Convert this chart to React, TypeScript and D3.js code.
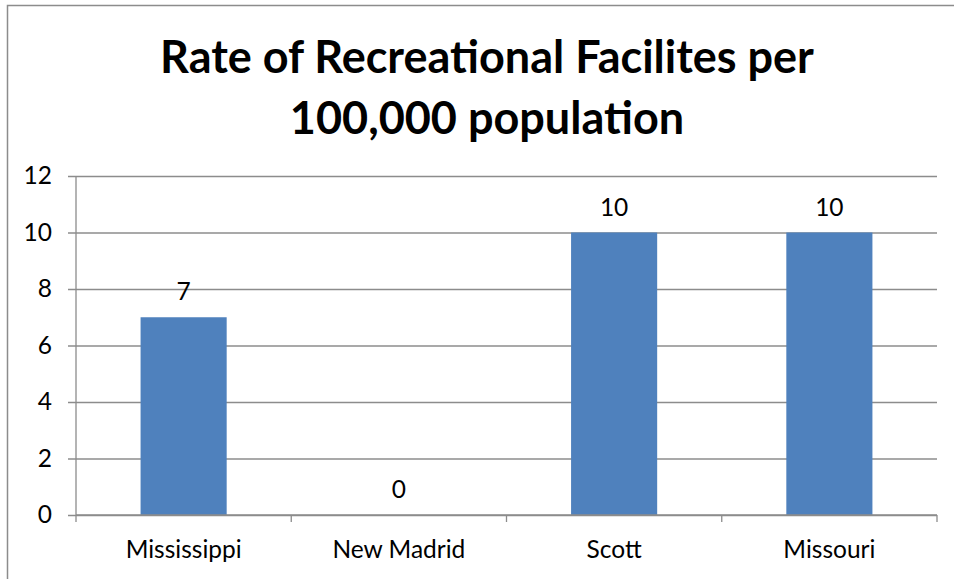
import * as d3 from "d3";
import {useEffect, useRef} from "react";

const categories = ["Mississippi", "New Madrid", "Scott", "Missouri"];
const values = [7, 0, 10, 10];
const yTicks = [0, 2, 4, 6, 8, 10, 12];
const titleLines = ["Rate of Recreational Facilites per", "100,000 population"];

const W = 954;
const H = 579;
const FONT = "Lato, 'Open Sans', sans-serif";
const LABEL_SIZE = 24.5;

const App = () => {
    const svgRef = useRef(null);

    useEffect(() => {
        if (!svgRef.current) return;
        const svg = d3.select(svgRef.current);
        svg.selectAll("*").remove();

        const margin = {top: 176, right: 17, bottom: 64, left: 76};
        const innerWidth = W - margin.left - margin.right;
        const innerHeight = H - margin.top - margin.bottom;

        // outer chart border (only top and left visible)
        svg.append("path")
            .attr("d", `M7.5,${H} V5.5 H${W}`)
            .attr("fill", "none")
            .attr("stroke", "#8c8c8c")
            .attr("stroke-width", 1.5);

        // title
        svg.append("g")
            .selectAll("text")
            .data(titleLines)
            .enter()
            .append("text")
            .attr("x", 487)
            .attr("y", (d, i) => 73 + i * 61)
            .attr("text-anchor", "middle")
            .attr("font-family", FONT)
            .attr("font-weight", "bold")
            .attr("font-size", 45)
            .attr("fill", "#000")
            .text(d => d);

        const g = svg.append("g")
            .attr("transform", `translate(${margin.left},${margin.top})`);

        const xScale = d3.scaleBand()
            .domain(categories)
            .range([0, innerWidth])
            .paddingInner(0.6)
            .paddingOuter(0.3);

        const yScale = d3.scaleLinear()
            .domain([0, 12])
            .range([innerHeight, 0]);

        // horizontal gridlines + y ticks
        const yAxis = g.append("g")
            .call(d3.axisLeft(yScale)
                .tickValues(yTicks)
                .tickSize(-innerWidth)
                .tickPadding(24)
                .tickFormat(d3.format("d")));
        yAxis.select(".domain").remove();
        yAxis.selectAll(".tick line")
            .attr("stroke", "#8c8c8c")
            .attr("stroke-width", 1.3)
            .attr("x1", -8);
        yAxis.selectAll(".tick text")
            .attr("font-family", FONT)
            .attr("font-size", LABEL_SIZE)
            .attr("fill", "#000");

        // vertical axis line
        g.append("line")
            .attr("x1", 0).attr("x2", 0)
            .attr("y1", 0).attr("y2", innerHeight)
            .attr("stroke", "#8c8c8c")
            .attr("stroke-width", 1.3);

        // bars
        g.selectAll(".bar")
            .data(values)
            .enter()
            .append("rect")
            .attr("class", "bar")
            .attr("x", (d, i) => xScale(categories[i])!)
            .attr("width", xScale.bandwidth())
            .attr("y", d => yScale(d))
            .attr("height", d => innerHeight - yScale(d))
            .attr("fill", "#4f81bd");

        // data labels
        g.selectAll(".label")
            .data(values)
            .enter()
            .append("text")
            .attr("class", "label")
            .attr("x", (d, i) => xScale(categories[i])! + xScale.bandwidth() / 2)
            .attr("y", d => yScale(d) - 17)
            .attr("text-anchor", "middle")
            .attr("font-family", FONT)
            .attr("font-size", LABEL_SIZE)
            .attr("fill", "#000")
            .text(d => d);

        // x axis
        const step = xScale.step();
        const bounds = d3.range(categories.length + 1).map(i => i * step);
        g.append("line")
            .attr("x1", 0).attr("x2", innerWidth)
            .attr("y1", innerHeight).attr("y2", innerHeight)
            .attr("stroke", "#8c8c8c")
            .attr("stroke-width", 1.3);
        g.selectAll(".xtick")
            .data(bounds)
            .enter()
            .append("line")
            .attr("class", "xtick")
            .attr("x1", d => d).attr("x2", d => d)
            .attr("y1", innerHeight).attr("y2", innerHeight + 7)
            .attr("stroke", "#8c8c8c")
            .attr("stroke-width", 1.3);
        g.selectAll(".xlabel")
            .data(categories)
            .enter()
            .append("text")
            .attr("class", "xlabel")
            .attr("x", d => xScale(d)! + xScale.bandwidth() / 2)
            .attr("y", innerHeight + 43)
            .attr("text-anchor", "middle")
            .attr("font-family", FONT)
            .attr("font-size", LABEL_SIZE)
            .attr("fill", "#000")
            .text(d => d);
    }, []);

    return <svg ref={svgRef} width={W} height={H}
                style={{position: "absolute", left: 0, top: 0, background: "#fff"}}/>;
};

export default App;
